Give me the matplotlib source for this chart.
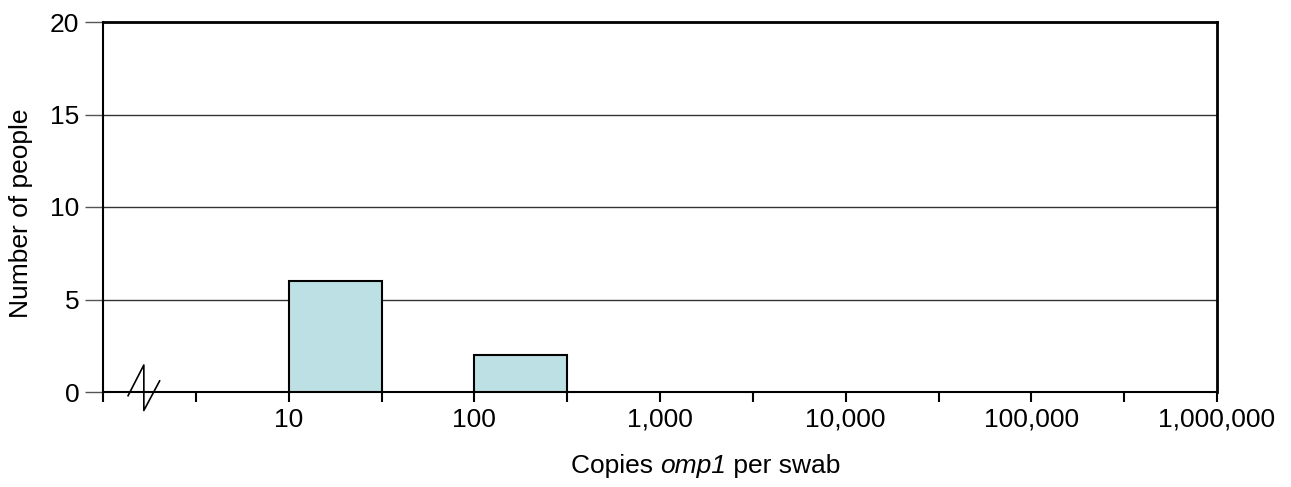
import numpy as np
import matplotlib.pyplot as plt
from matplotlib.transforms import blended_transform_factory

plt.rcParams['font.family'] = ['Liberation Sans', 'DejaVu Sans']

# half-decade bins (log10 of lower edge) and counts
bin_log_lo = [1.0, 2.0]
bin_counts = [6, 2]
bin_width_log = 0.5

tick_values = [10, 100, 1000, 10000, 100000, 1000000]
tick_labels = ["10", "100", "1,000", "10,000", "100,000", "1,000,000"]
minor_ticks = [10 ** (k / 2) for k in range(0, 13)]
y_ticks = [0, 5, 10, 15, 20]

FS = 19
W, H = 1291, 487

fig = plt.figure(figsize=(W / 100, H / 100), dpi=100)
ax = fig.add_axes([103 / W, 1 - 392 / H, (1217 - 103) / W, (392 - 22) / H])

lo = np.power(10.0, bin_log_lo)
hi = np.power(10.0, np.array(bin_log_lo) + bin_width_log)
ax.bar(lo, bin_counts, width=hi - lo, align='edge', color='#bce0e3',
       edgecolor='black', linewidth=1.5, zorder=3)

ax.set_xscale('log')
ax.set_xlim(1, 1e6)
ax.set_ylim(0, 20)

for y in y_ticks[1:-1]:
    ax.axhline(y, color='#333333', linewidth=1, zorder=1)

ax.set_xticks(minor_ticks)
ax.set_xticklabels([tick_labels[tick_values.index(round(v))] if round(v) in tick_values else ""
                    for v in minor_ticks])
ax.xaxis.set_minor_locator(plt.NullLocator())
ax.tick_params(axis='x', direction='out', length=7.2, width=1.5, labelsize=FS, pad=4)
ax.set_yticks(y_ticks)
ax.tick_params(axis='y', direction='out', length=13, width=1, color='#555555', labelsize=FS, pad=4)

for s in ax.spines.values():
    s.set_linewidth(1.5)
ax.spines['top'].set_linewidth(2)
ax.spines['right'].set_linewidth(2)

# axis break mark near the origin
trans = blended_transform_factory(ax.transData, ax.transAxes)
bx = 10 ** 0.22
ax.plot([10 ** 0.135, bx, bx, 10 ** 0.305], [-0.01, 0.073, -0.05, 0.03],
        color='black', linewidth=1.2, transform=trans, clip_on=False, zorder=4)

fig.text(21 / W, 1 - 213 / H, "Number of people", fontsize=FS, rotation=90,
         ha='center', va='center')

# x label with italic gene name, pieced together
parts = [("Copies ", 'normal'), ("omp1", 'italic'), (" per swab", 'normal')]
fig.canvas.draw()
r = fig.canvas.get_renderer()
texts = [fig.text(0, 0, s, fontsize=FS, style=st, va='center') for s, st in parts]
widths = [t.get_window_extent(r).width for t in texts]
x0 = 706 - sum(widths) / 2
for t, w in zip(texts, widths):
    t.set_position((x0 / W, 1 - 466 / H))
    x0 += w

fig.savefig("out.png", dpi=100)
